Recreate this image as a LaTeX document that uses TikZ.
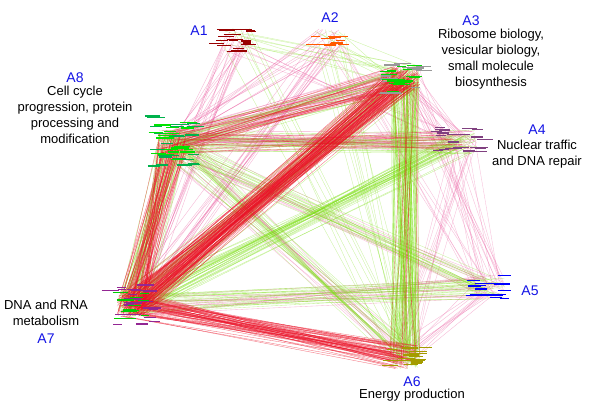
\documentclass[tikz,border=0pt]{standalone}
\usepackage{fontspec}
\setmainfont{Liberation Sans}
\usepackage{xcolor}
\usetikzlibrary{positioning}

\definecolor{linkred}{RGB}{236,18,40}
\definecolor{linkpink}{RGB}{236,90,160}
\definecolor{linkgreen}{RGB}{125,225,20}
\definecolor{labelblue}{RGB}{20,20,230}

% bundle of links between two gene groups: from, to, count, colour, opacity
\newcommand\linkset[5]{%
  \foreach \k in {1,...,#3}{%
    \pgfmathsetmacro\ux{15*rand}\pgfmathsetmacro\uy{12*rand}%
    \pgfmathsetmacro\vx{15*rand}\pgfmathsetmacro\vy{12*rand}%
    \draw[#4, opacity=#5, line width=0.35pt]
      ([shift={(\ux,\uy)}]#1.center) -- ([shift={(\vx,\vy)}]#2.center);
  }}

% short bars for the genes of one group: node, count, colour, half width, half height
\newcommand\genebars[5]{%
  \foreach \k in {1,...,#2}{%
    \pgfmathsetmacro\bx{#4*rand}\pgfmathsetmacro\by{#5*rand}\pgfmathsetmacro\bw{4+5*rnd}%
    \draw[#3, line width=1.2pt]
      ([shift={(\bx-\bw,\by)}]#1.center) -- ([shift={(\bx+\bw,\by)}]#1.center);
  }}

\begin{document}
\begin{tikzpicture}[
    x=1pt, y=-1pt,
    hub/.style={inner sep=0pt, minimum size=2pt},
    grouplabel/.style={text=labelblue, font=\fontsize{14}{16}\selectfont, inner sep=1pt},
    groupnote/.style={align=center, font=\fontsize{13}{16}\selectfont, inner sep=1pt}
  ]
  \pgfmathsetseed{11}
  \useasboundingbox[fill=white] (0,0) rectangle (600,416);

  % gene groups
  \node[hub] (a1) at (235,40) {};
  \node[hub] (a2) at (330,40) {};
  \node[hub] (a3) at (405,78) {};
  \node[hub] (a4) at (462,142) {};
  \node[hub] (a5) at (490,287) {};
  \node[hub] (a6) at (405,357) {};
  \node[hub] (a7) at (132,305) {};
  \node[hub] (a8) at (172,142) {};

  % thin links
  \linkset{a1}{a7}{12}{linkpink}{0.45}
  \linkset{a1}{a8}{8}{linkpink}{0.45}
  \linkset{a1}{a3}{8}{linkgreen}{0.4}
  \linkset{a1}{a6}{6}{linkgreen}{0.4}
  \linkset{a1}{a4}{5}{linkpink}{0.4}
  \linkset{a2}{a7}{14}{linkpink}{0.45}
  \linkset{a2}{a8}{10}{linkpink}{0.45}
  \linkset{a2}{a6}{8}{linkgreen}{0.4}
  \linkset{a2}{a3}{6}{linkgreen}{0.4}
  \linkset{a2}{a5}{5}{linkpink}{0.4}
  \linkset{a3}{a4}{12}{linkpink}{0.45}
  \linkset{a3}{a5}{10}{linkpink}{0.4}
  \linkset{a4}{a6}{10}{linkpink}{0.4}
  \linkset{a4}{a5}{8}{linkpink}{0.4}
  \linkset{a5}{a6}{10}{linkpink}{0.45}
  \linkset{a7}{a5}{16}{linkpink}{0.45}
  \linkset{a8}{a5}{10}{linkpink}{0.4}
  \linkset{a8}{a6}{12}{linkpink}{0.4}
  \linkset{a8}{a4}{30}{linkpink}{0.5}
  \linkset{a8}{a3}{30}{linkpink}{0.5}

  % green links
  \linkset{a7}{a4}{35}{linkgreen}{0.45}
  \linkset{a7}{a5}{22}{linkgreen}{0.45}
  \linkset{a8}{a5}{18}{linkgreen}{0.4}
  \linkset{a8}{a6}{20}{linkgreen}{0.4}
  \linkset{a8}{a4}{22}{linkgreen}{0.45}
  \linkset{a8}{a3}{18}{linkgreen}{0.45}
  \linkset{a7}{a3}{25}{linkgreen}{0.45}
  \linkset{a7}{a8}{40}{linkgreen}{0.5}
  \linkset{a3}{a6}{70}{linkgreen}{0.55}

  % heavy red links
  \linkset{a8}{a3}{20}{linkred}{0.55}
  \linkset{a8}{a4}{10}{linkred}{0.5}
  \linkset{a7}{a8}{55}{linkred}{0.6}
  \linkset{a7}{a6}{60}{linkred}{0.6}
  \linkset{a7}{a3}{90}{linkred}{0.6}
  \linkset{a6}{a3}{10}{linkred}{0.5}

  % genes
  \genebars{a1}{20}{red!60!black}{24}{12}
  \genebars{a2}{12}{orange!70!red}{16}{7}
  \genebars{a3}{18}{gray!80}{24}{16}
  \genebars{a3}{16}{green!85!black}{18}{14}
  \genebars{a4}{22}{violet!50!gray}{26}{16}
  \genebars{a5}{18}{blue}{18}{13}
  \genebars{a6}{20}{olive!80!yellow}{22}{11}
  \genebars{a7}{24}{violet!85}{24}{22}
  \genebars{a7}{12}{green!80!black}{14}{14}
  \genebars{a8}{26}{teal!60!green}{26}{27}
  \genebars{a8}{18}{green!90!black}{18}{22}

  % group names
  \node[grouplabel] (lab1) at (199,31) {A1};
  \node[grouplabel] (lab2) at (330,18) {A2};
  \node[grouplabel] (lab3) at (471,21) {A3};
  \node[groupnote, below=1pt of lab3, xshift=20pt] (txt3) {Ribosome biology,\\vesicular biology,\\small molecule\\biosynthesis};
  \node[grouplabel] (lab4) at (537,130) {A4};
  \node[groupnote, below=3pt of lab4] (txt4) {Nuclear traffic\\and DNA repair};
  \node[grouplabel] (lab5) at (530,291) {A5};
  \node[grouplabel] (lab6) at (412,382) {A6};
  \node[groupnote, below=0pt of lab6] (txt6) {Energy production};
  \node[groupnote] (txt7) at (46,313) {DNA and RNA\\metabolism};
  \node[grouplabel, below=6pt of txt7] (lab7) {A7};
  \node[grouplabel] (lab8) at (75,78) {A8};
  \node[groupnote, below=1pt of lab8] (txt8) {Cell cycle\\progression, protein\\processing and\\modification};
\end{tikzpicture}
\end{document}
